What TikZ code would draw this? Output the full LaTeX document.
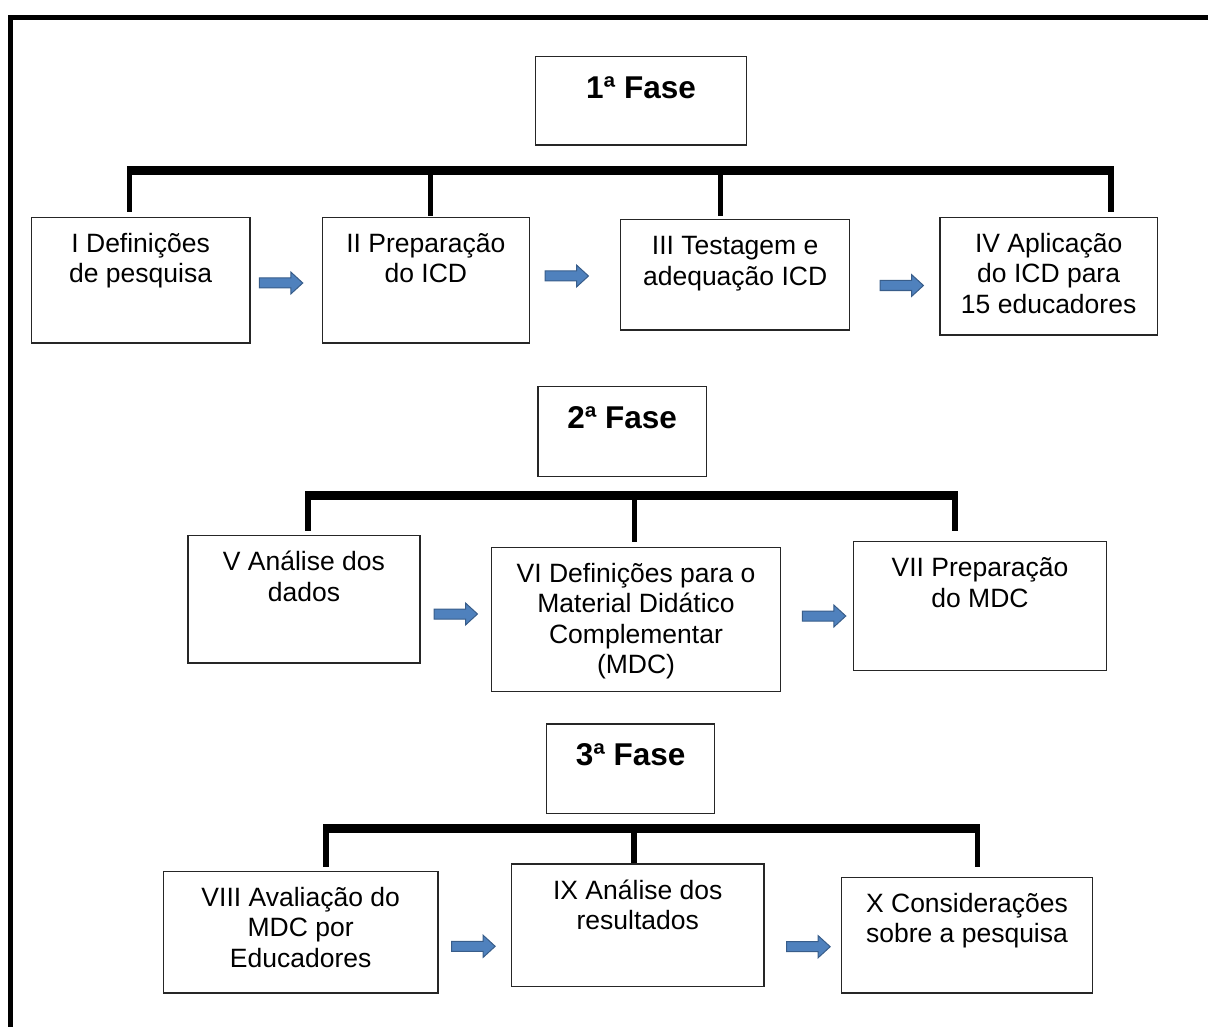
\documentclass[tikz,border=0pt]{standalone}
\usepackage{fontspec}
\setmainfont{Liberation Sans}
\definecolor{arrowblue}{HTML}{4F81BD}
\definecolor{arrowedge}{HTML}{385D8A}
\newcommand\stg[3]{\parbox[c][#2pt][t]{#1pt}{\centering\fontsize{26.5pt}{30.5pt}\selectfont\vspace*{13.7pt}\strut #3\par}}
\newcommand\phs[3]{\parbox[c][#2pt][t]{#1pt}{\centering\fontsize{31.5pt}{36pt}\selectfont\bfseries\vspace*{16.8pt}\strut #3\par}}
\begin{document}
\begin{tikzpicture}[x=1pt,y=-1pt,
  stage/.style={draw=black!85, line width=1.3pt, inner sep=0pt, fill=white, anchor=north west},
  phase/.style={stage},
  bar/.style={line width=8.5pt},
  leg/.style={line width=5.5pt},
  frameline/.style={line width=5.5pt, line join=miter},
  arrowfill/.style={fill=arrowblue, draw=arrowedge, line width=1pt, line join=miter},
  blockarrow/.pic={\path[arrowfill] (0,-5) -- (31.5,-5) -- (31.5,-11) -- (43.5,0) -- (31.5,11) -- (31.5,5) -- (0,5) -- cycle;}
]
\useasboundingbox (0,0) rectangle (1208,1027);
% outer frame
\draw[frameline] (1215,17.5) -- (10.5,17.5) -- (10.5,1035);

% phase 1
\node[phase] (p1) at (535,55.7) {\phs{210.7}{88.6}{1ª Fase}};
\node[stage] (bI) at (30.7,216.7) {\stg{218.6}{125.6}{I Definições\\de pesquisa}};
\node[stage] (bII) at (321.7,216.7) {\stg{207}{125.6}{II Preparação\\do ICD}};
\node[stage] (bIII) at (620,219) {\stg{229}{110.3}{III Testagem e\\adequação ICD}};
\node[stage] (bIV) at (939.3,216.7) {\stg{217.4}{117.6}{IV Aplicação\\do ICD para\\15 educadores}};

% phase 2
\node[phase] (p2) at (537.3,386) {\phs{168.4}{89.7}{2ª Fase}};
\node[stage] (bV) at (187.3,535) {\stg{232}{127.3}{V Análise dos\\dados}};
\node[stage] (bVI) at (490.7,546.7) {\stg{289.3}{144}{VI Definições para o\\Material Didático\\Complementar\\(MDC)}};
\node[stage] (bVII) at (853,541) {\stg{252.7}{129}{VII Preparação\\do MDC}};

% phase 3
\node[phase] (p3) at (546,723.3) {\phs{168}{89.4}{3ª Fase}};
\node[stage] (bVIII) at (162.7,870.7) {\stg{274.6}{121.6}{VIII Avaliação do\\MDC por\\Educadores}};
\node[stage] (bIX) at (511,863.3) {\stg{252.3}{122.7}{IX Análise dos\\resultados}};
\node[stage] (bX) at (840.7,876.7) {\stg{251.3}{115.6}{X Considerações\\sobre a pesquisa}};

% bracket 1
\coordinate (h1l) at (126.75,170.5);
\coordinate (h1r) at (1113.75,170.5);
\coordinate (t1a) at (129.5,166.25);
\coordinate (t1b) at (430.7,170.5);
\coordinate (t1c) at (720.7,170.5);
\coordinate (t1d) at (1111,166.25);
\draw[bar] (h1l) -- (h1r);
\draw[leg, shorten >=4.7pt] (t1a) -- (t1a |- bI.north);
\draw[leg, shorten >=1pt] (t1b) -- (t1b |- bII.north);
\draw[leg, shorten >=3.3pt] (t1c) -- (t1c |- bIII.north);
\draw[leg, shorten >=4.7pt] (t1d) -- (t1d |- bIV.north);

% bracket 2
\coordinate (h2l) at (305.25,495.7);
\coordinate (h2r) at (957.75,495.7);
\coordinate (t2a) at (308,491.45);
\coordinate (t2b) at (634.7,495.7);
\coordinate (t2c) at (955,491.45);
\draw[bar] (h2l) -- (h2r);
\draw[leg, shorten >=4pt] (t2a) -- (t2a |- bV.north);
\draw[leg, shorten >=5pt] (t2b) -- (t2b |- bVI.north);
\draw[leg, shorten >=10pt] (t2c) -- (t2c |- bVII.north);

% bracket 3
\coordinate (h3l) at (323.25,828.5);
\coordinate (h3r) at (980.45,828.5);
\coordinate (t3a) at (326,824.25);
\coordinate (t3b) at (634,828.5);
\coordinate (t3c) at (977.7,824.25);
\draw[bar] (h3l) -- (h3r);
\draw[leg, shorten >=4pt] (t3a) -- (t3a |- bVIII.north);
\draw[leg, shorten >=0.5pt] (t3b) -- (t3b |- bIX.north);
\draw[leg, shorten >=9.4pt] (t3c) -- (t3c |- bX.north);

% block arrows
\pic (a1) at (259.3,283) {blockarrow};
\pic (a2) at (545,276) {blockarrow};
\pic (a3) at (880,285.5) {blockarrow};
\pic (a4) at (434,614) {blockarrow};
\pic (a5) at (802.3,616) {blockarrow};
\pic (a6) at (451.7,946.3) {blockarrow};
\pic (a7) at (786.7,946.7) {blockarrow};
\end{tikzpicture}
\end{document}
